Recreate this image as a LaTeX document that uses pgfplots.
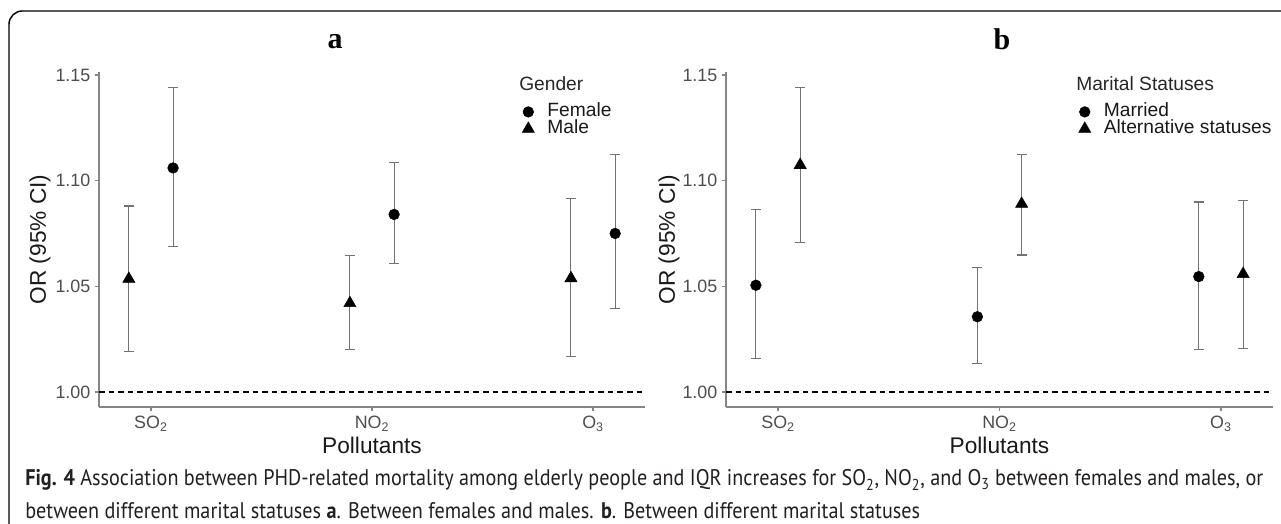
\documentclass[border=0pt]{standalone}
\usepackage{pgfplots}
\usepackage{pgfplotstable}
\usepackage{graphicx}
\usepackage{fontspec}
\pgfplotsset{compat=1.18}
\setmainfont{Liberation Sans}
\newfontfamily\titlefont{Liberation Serif}
\newfontfamily\capfont{PT Sans}

\definecolor{axgray}{HTML}{858585}
\definecolor{labgray}{HTML}{4D4D4D}
\definecolor{errgray}{HTML}{737373}
\definecolor{capgray}{HTML}{231F20}

% panel a: gender
\pgfplotstableread{
x   y      lo      hi
1.1 1.106  1.069   1.144
2.1 1.084  1.0606  1.1087
3.1 1.075  1.0394  1.1125
}\femA
\pgfplotstableread{
x   y      lo      hi
0.9 1.0535 1.019   1.088
1.9 1.042  1.020   1.0645
2.9 1.0538 1.0167  1.0915
}\maleA
% panel b: marital status
\pgfplotstableread{
x   y      lo      hi
0.9 1.0505 1.016   1.0863
1.9 1.0356 1.0133  1.0588
2.9 1.0546 1.0203  1.0899
}\marB
\pgfplotstableread{
x   y      lo      hi
1.1 1.1074 1.0707  1.144
2.1 1.089  1.0648  1.1125
3.1 1.0558 1.0207  1.0904
}\altB

\pgfplotsset{
  orpanel/.style={
    scale only axis, height=251.25pt,
    xmin=0.765, xmax=3.235, ymin=0.9929, ymax=1.1514,
    axis x line*=bottom, axis y line*=left,
    axis line style={color=axgray, line width=0.9pt},
    tick align=outside, major tick length=3pt,
    tick style={color=axgray, line width=0.9pt},
    xtick={1,2,3},
    xticklabels={SO\textsubscript{2},NO\textsubscript{2},O\textsubscript{3}},
    ytick={1,1.05,1.1,1.15},
    /pgf/number format/assume math mode=true,
    yticklabel style={/pgf/number format/fixed,/pgf/number format/fixed zerofill,/pgf/number format/precision=2},
    ticklabel style={font=\fontsize{13.4}{14}\selectfont, color=labgray},
    xlabel={Pollutants}, ylabel={OR (95\% CI)},
    label style={font=\fontsize{17}{18}\selectfont, color=black!90},
    xlabel style={at={(axis description cs:0.5,-0.116)}, anchor=center},
    legend style={draw=none, fill=none, inner sep=0pt, row sep=0pt, column sep=0pt,
      font=\fontsize{14.4}{15}\selectfont, text=black!90,
      nodes={inner sep=0pt, text height=9.5pt, text depth=3.25pt}},
    legend image code/.code={\draw[#1] plot coordinates {(0pt,0pt)};},
    legend cell align=left,
    clip=false,
  },
  ebar/.style={error bars/.cd, y dir=both, y explicit,
    error bar style={color=errgray, line width=0.8pt},
    error mark options={color=errgray, line width=0.8pt, mark size=3.75pt, rotate=90}},
  circ/.style={only marks, mark=*, mark size=4pt, black},
  tri/.style={only marks, mark=triangle*, mark size=5.25pt, black},
}

\begin{document}
\begin{tikzpicture}[x=0.75pt,y=0.75pt]
\useasboundingbox (0,0) rectangle (1281,524);
\draw[line width=1.1pt, rounded corners=10pt] (9,-10) |- (1295,513);

\begin{axis}[orpanel, at={(74.25pt,87.75pt)}, anchor=south west, width=409.5pt,
  ylabel style={at={(axis description cs:-0.108,0.5)}, anchor=center},
  legend style={at={(0.7747,0.907)}, anchor=north west}]
\addplot[black, dashed, dash pattern=on 4.2pt off 3pt, line width=0.9pt, forget plot]
  coordinates {(0.765,1) (3.235,1)};
\addplot[circ, ebar] table[x=x, y=y, y error plus expr=\thisrow{hi}-\thisrow{y}, y error minus expr=\thisrow{y}-\thisrow{lo}] {\femA};
\addlegendentry{\hspace*{9.8pt}Female}
\addplot[tri, ebar] table[x=x, y=y, y error plus expr=\thisrow{hi}-\thisrow{y}, y error minus expr=\thisrow{y}-\thisrow{lo}] {\maleA};
\addlegendentry{\hspace*{9.8pt}Male}
\end{axis}

\begin{axis}[orpanel, at={(544.5pt,87.75pt)}, anchor=south west, width=410.25pt,
  ylabel style={at={(axis description cs:-0.104,0.5)}, anchor=center},
  legend style={at={(0.6443,0.907)}, anchor=north west}]
\addplot[black, dashed, dash pattern=on 4.2pt off 3pt, line width=0.9pt, forget plot]
  coordinates {(0.765,1) (3.235,1)};
\addplot[circ, ebar] table[x=x, y=y, y error plus expr=\thisrow{hi}-\thisrow{y}, y error minus expr=\thisrow{y}-\thisrow{lo}] {\marB};
\addlegendentry{\hspace*{9.8pt}Married}
\addplot[tri, ebar] table[x=x, y=y, y error plus expr=\thisrow{hi}-\thisrow{y}, y error minus expr=\thisrow{y}-\thisrow{lo}] {\altB};
\addlegendentry{\hspace*{9.8pt}Alternative statuses}
\end{axis}

% panel titles and legend titles
\node[font=\titlefont\bfseries\fontsize{22.5}{24}\selectfont] at (335,482) {a};
\node[font=\titlefont\bfseries\fontsize{22.5}{24}\selectfont] at (1002,484.5) {b};
\node[anchor=west, inner sep=0pt, font=\fontsize{14.4}{15}\selectfont, text=black!85] at (519,440) {Gender};
\node[anchor=west, inner sep=0pt, font=\fontsize{14.4}{15}\selectfont, text=black!85] at (1076,440) {Marital Statuses};

% caption
\node[anchor=base west, inner sep=0pt] at (25,38) {\scalebox{1}[1.12]{\resizebox{928.5pt}{!}{\capfont\fontsize{13}{18.5}\selectfont\color{capgray}%
\begin{tabular}[t]{@{}l@{}}
\textbf{Fig. 4} Association between PHD-related mortality among elderly people and IQR increases for SO\textsubscript{2}, NO\textsubscript{2}, and O\textsubscript{3} between females and males, or\\
between different marital statuses \textbf{a}. Between females and males. \textbf{b}. Between different marital statuses
\end{tabular}}}};
\end{tikzpicture}
\end{document}
